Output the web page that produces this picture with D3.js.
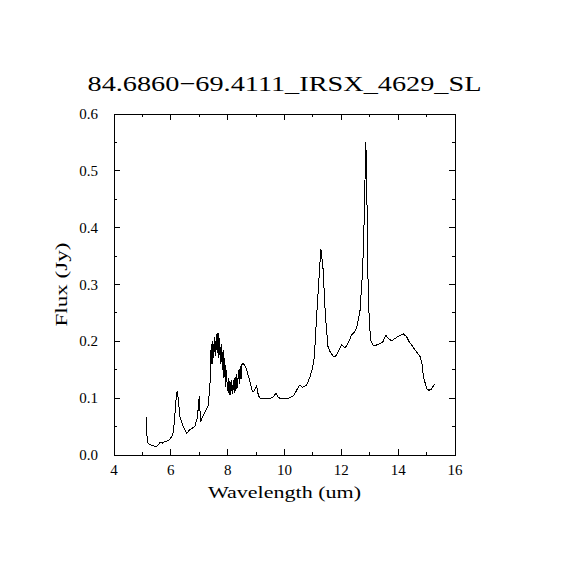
<!DOCTYPE html>
<html>
<head>
<meta charset="utf-8">
<script src="https://cdn.jsdelivr.net/npm/d3@7"></script>
<style>
  body { margin: 0; background: #fff; }
  svg { display: block; }
  text { font-family: "Liberation Serif", "DejaVu Serif", serif; fill: #000; }
</style>
</head>
<body>
<div id="chart"></div>
<script>
const title = "84.6860\u221269.4111_IRSX_4629_SL";
const xLabel = "Wavelength (um)";
const yLabel = "Flux (Jy)";
const xTicks = [4, 6, 8, 10, 12, 14, 16];
const yTicks = [0.0, 0.1, 0.2, 0.3, 0.4, 0.5, 0.6];

// wavelength (um) and flux (Jy)
const wavelength = [
  5.13, 5.15, 5.18, 5.25, 5.32, 5.40, 5.50, 5.56, 5.62, 5.70, 5.80, 5.90, 5.97, 6.04, 6.09, 6.15, 6.20, 6.23, 6.27, 6.32,
  6.40, 6.48, 6.56, 6.62, 6.67, 6.75, 6.85, 6.93, 6.97, 7.00, 7.03, 7.06, 7.10, 7.14, 7.22, 7.32, 7.38,
  7.42, 7.45, 7.48, 7.51, 7.54, 7.57, 7.60, 7.63, 7.66, 7.69, 7.72, 7.75, 7.78, 7.81, 7.84, 7.87, 7.90, 7.93, 7.96, 7.99,
  8.02, 8.05, 8.08, 8.11, 8.14, 8.17, 8.20, 8.23, 8.26, 8.29, 8.32, 8.35, 8.38, 8.41, 8.44, 8.47, 8.50, 8.55, 8.60,
  8.67, 8.75, 8.85, 8.90, 8.95, 9.02, 9.08, 9.14, 9.30, 9.49, 9.60, 9.70, 9.78, 9.90, 10.02, 10.15, 10.31, 10.40, 10.47,
  10.54, 10.64, 10.78, 10.90, 10.98, 11.05, 11.13, 11.21, 11.28, 11.36, 11.44, 11.53, 11.62, 11.74, 11.82, 11.89,
  12.01, 12.13, 12.24, 12.36, 12.45, 12.54, 12.66, 12.75, 12.80, 12.84, 12.86, 12.89, 12.93, 12.98, 13.03, 13.10,
  13.18, 13.30, 13.45, 13.57, 13.65, 13.77, 13.95, 14.05, 14.18, 14.30, 14.39, 14.50, 14.59, 14.70, 14.77, 14.84,
  14.89, 15.00, 15.08, 15.15, 15.21, 15.28
];
const flux = [
  0.067, 0.040, 0.022, 0.019, 0.017, 0.016, 0.015, 0.018, 0.022, 0.021, 0.024, 0.025, 0.028, 0.033, 0.041, 0.075, 0.108, 0.113, 0.095, 0.067,
  0.055, 0.045, 0.038, 0.042, 0.045, 0.047, 0.051, 0.065, 0.085, 0.103, 0.075, 0.059, 0.065, 0.070, 0.078, 0.088, 0.127,
  0.195, 0.160, 0.200, 0.170, 0.208, 0.175, 0.212, 0.180, 0.214, 0.170, 0.205, 0.160, 0.195, 0.150, 0.185, 0.135, 0.170, 0.120, 0.150, 0.112,
  0.135, 0.106, 0.130, 0.105, 0.132, 0.108, 0.132, 0.110, 0.137, 0.112, 0.142, 0.118, 0.150, 0.125, 0.156, 0.133, 0.159, 0.161, 0.158,
  0.150, 0.135, 0.115, 0.111, 0.115, 0.121, 0.105, 0.100, 0.099, 0.099, 0.102, 0.109, 0.101, 0.099, 0.099, 0.100, 0.104, 0.111, 0.118,
  0.123, 0.119, 0.123, 0.138, 0.152, 0.173, 0.244, 0.308, 0.363, 0.326, 0.244, 0.191, 0.180, 0.172, 0.175, 0.182,
  0.194, 0.188, 0.197, 0.211, 0.216, 0.223, 0.255, 0.326, 0.408, 0.500, 0.550, 0.502, 0.326, 0.240, 0.202, 0.194,
  0.192, 0.195, 0.198, 0.211, 0.205, 0.201, 0.207, 0.210, 0.213, 0.208, 0.199, 0.192, 0.185, 0.178, 0.173, 0.160,
  0.138, 0.117, 0.114, 0.115, 0.119, 0.125
];

const width = 570, height = 570;
const plotLeft = 114, plotRight = 455, plotTop = 114, plotBottom = 455;

const svg = d3.select("#chart").append("svg")
  .attr("width", width)
  .attr("height", height)
  .attr("viewBox", `0 0 ${width} ${height}`);

const x = d3.scaleLinear().domain([4, 16]).range([plotLeft, plotRight]);
const y = d3.scaleLinear().domain([0, 0.6]).range([plotBottom, plotTop]);

// minor ticks at every unit / 0.05
const xMinor = d3.range(4, 16.01, 1);
const yMinor = d3.range(0, 0.601, 0.05);

const axes = svg.append("g").attr("stroke", "#000").attr("stroke-width", 1).attr("shape-rendering", "crispEdges");

axes.append("rect")
  .attr("x", plotLeft).attr("y", plotTop)
  .attr("width", plotRight - plotLeft).attr("height", plotBottom - plotTop)
  .attr("fill", "none");

// inward ticks on all four sides
xMinor.forEach(v => {
  const len = Math.round(v) % 2 === 0 ? 6 : 3;
  axes.append("line").attr("x1", x(v)).attr("x2", x(v)).attr("y1", plotBottom).attr("y2", plotBottom - len);
  axes.append("line").attr("x1", x(v)).attr("x2", x(v)).attr("y1", plotTop).attr("y2", plotTop + len);
});
yMinor.forEach((v, i) => {
  const len = i % 2 === 0 ? 6 : 3;
  axes.append("line").attr("x1", plotLeft).attr("x2", plotLeft + len).attr("y1", y(v)).attr("y2", y(v));
  axes.append("line").attr("x1", plotRight).attr("x2", plotRight - len).attr("y1", y(v)).attr("y2", y(v));
});

svg.append("g").selectAll("text").data(xTicks).join("text")
  .attr("x", d => x(d))
  .attr("y", plotBottom + 20)
  .attr("text-anchor", "middle")
  .attr("font-size", 15)
  .text(d => d);

svg.append("g").selectAll("text").data(yTicks).join("text")
  .attr("x", plotLeft - 16)
  .attr("y", d => y(d) + 5)
  .attr("text-anchor", "end")
  .attr("font-size", 15)
  .text(d => d.toFixed(1));

svg.append("text")
  .attr("x", (plotLeft + plotRight) / 2)
  .attr("y", 91)
  .attr("text-anchor", "middle")
  .attr("font-size", 22)
  .attr("textLength", 394)
  .attr("lengthAdjust", "spacingAndGlyphs")
  .text(title);

svg.append("text")
  .attr("x", (plotLeft + plotRight) / 2)
  .attr("y", 498)
  .attr("text-anchor", "middle")
  .attr("font-size", 17)
  .attr("textLength", 153)
  .attr("lengthAdjust", "spacingAndGlyphs")
  .text(xLabel);

svg.append("text")
  .attr("transform", `translate(67, ${(plotTop + plotBottom) / 2}) rotate(-90)`)
  .attr("text-anchor", "middle")
  .attr("font-size", 17)
  .attr("textLength", 84)
  .attr("lengthAdjust", "spacingAndGlyphs")
  .text(yLabel);

const line = d3.line()
  .x((d, i) => x(wavelength[i]))
  .y(d => y(d));

svg.append("path")
  .datum(flux)
  .attr("d", line)
  .attr("fill", "none")
  .attr("stroke", "#000")
  .attr("stroke-width", 1)
  .attr("shape-rendering", "crispEdges");
</script>
</body>
</html>
